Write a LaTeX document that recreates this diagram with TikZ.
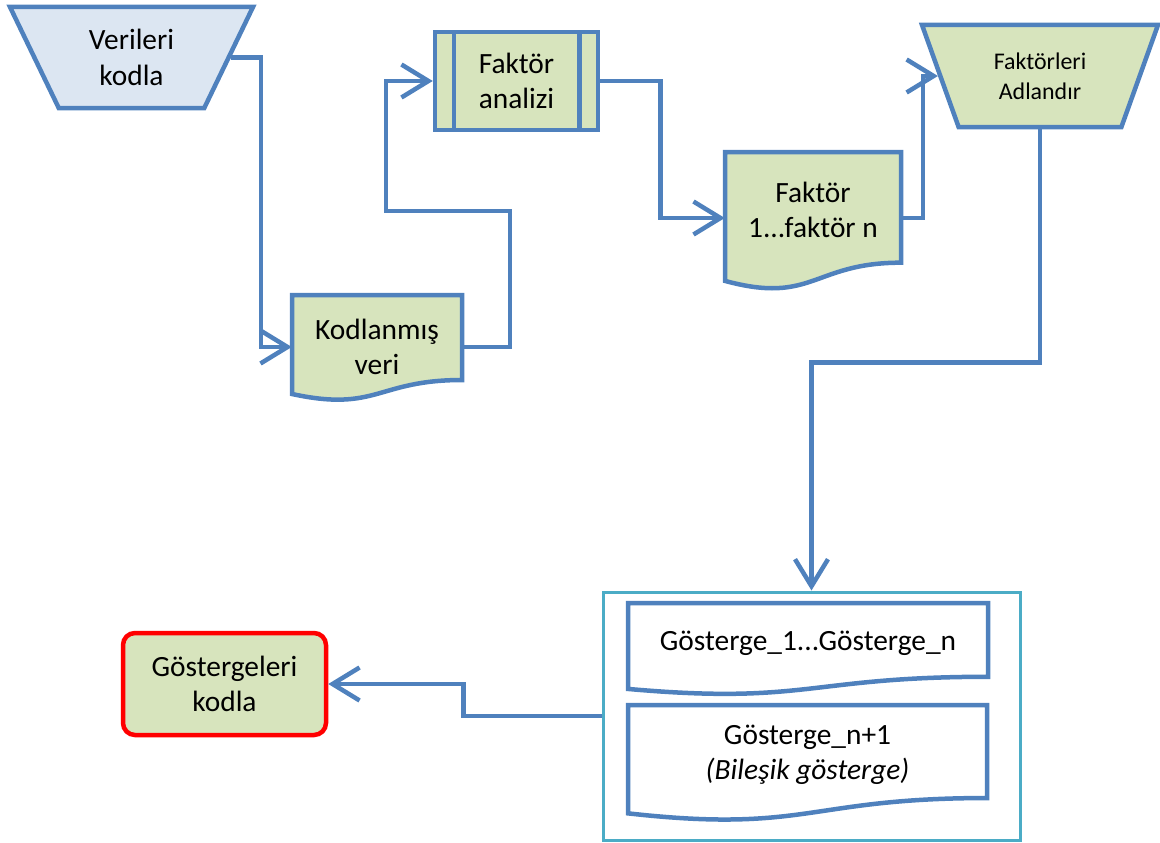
\documentclass[tikz,border=0pt]{standalone}
\usepackage{fontspec}
\setmainfont{Carlito}
\usetikzlibrary{shapes.geometric,arrows.meta,calc}
\definecolor{lnblue}{HTML}{4F81BD}
\definecolor{fgreen}{HTML}{D7E4BD}
\definecolor{fblue}{HTML}{DCE6F2}
\definecolor{grpc}{HTML}{4BACC6}
\newcommand\docshape[5]{%
  \filldraw[shp, fill=#5] (#1,#2) -- ({#1+#3},#2) -- ({#1+#3},{#2+0.802*#4})
    .. controls ({#1+0.5*#3},{#2+0.802*#4}) and ({#1+0.5*#3},{#2+1.1075*#4}) ..
    (#1,{#2+0.934*#4}) -- cycle;}
\begin{document}
\begin{tikzpicture}[x=1bp,y=-1bp,
  txt/.style={font=\fontsize{29.5}{35.5}\selectfont, align=center, text=black},
  smalltxt/.style={font=\fontsize{24}{30}\selectfont, align=center, text=black},
  shp/.style={draw=lnblue, line width=4.5bp},
  trap/.style={trapezium, trapezium stretches=true, shape border rotate=180, inner sep=0},
  conn/.style={draw=lnblue, line width=4.5bp, -{Straight Barb[length=27bp,width=33bp]}},
]
\useasboundingbox (0,0) rectangle (1160,843);

% shapes
\node[shp, fill=fblue, txt, trap, trapezium left angle=63, trapezium right angle=63,
  minimum width=243bp, minimum height=101bp] (vk) at (131.5,57.5) {Verileri\\kodla};

\docshape{292}{295}{170}{106}{fgreen}
\node[txt, minimum width=170bp, inner sep=0] (kv) at (377,347) {Kodlanmış\\veri};

\node[txt, shp, fill=fgreen, minimum width=163bp, minimum height=98bp, inner sep=0] (fan) at (516.5,81) {Faktör\\analizi};
\draw[shp] ([xshift=21bp,yshift=-2bp]fan.north west) -- ([xshift=21bp,yshift=2bp]fan.south west);
\draw[shp] ([xshift=-21bp,yshift=-2bp]fan.north east) -- ([xshift=-21bp,yshift=2bp]fan.south east);

\docshape{725}{152}{176}{138}{fgreen}
\node[txt, minimum width=176bp, inner sep=0] (f1) at (813,210) {Faktör\\1...faktör n};

\node[shp, fill=fgreen, smalltxt, trap, trapezium left angle=66, trapezium right angle=66,
  minimum width=236bp, minimum height=102bp] (fa) at (1040,76) {Faktörleri\\Adlandır};

\node[draw=grpc, line width=3bp, minimum width=417bp, minimum height=248bp, inner sep=0] (grp) at (811.5,716) {};

\docshape{628}{603}{360}{92}{white}
\node[txt, minimum width=360bp, inner sep=0] (g1) at (808,643) {Gösterge\_1...Gösterge\_n};

\docshape{628}{705}{359}{116}{white}
\node[txt, minimum width=359bp, inner sep=0] (g2) at (807.5,755) {Gösterge\_n+1\\\textit{(Bileşik gösterge)}};

\node[txt, draw=red, line width=4.5bp, fill=fgreen, rounded corners=12bp,
  minimum width=203bp, minimum height=102bp, inner sep=0] (gk) at (224.5,684) {Göstergeleri\\kodla};

% connectors
\draw[conn] (vk.east) -- ++(30,0) |- (kv.west);
\draw[conn] (kv.east) -- ++(48,0) -- ++(0,-136) -- ++(-124,0) |- (fan.west);
\draw[conn] (fan.east) -- ++(60,0) |- ([yshift=-8bp]f1.west);
\draw[conn] ([yshift=-8bp]f1.east) -- ++(22,0) |- (fa.west);
\draw[conn] (fa.south) -- ++(0,233) -| (grp.north);
\draw[conn] (grp.west) -- ++(-138,0) |- (gk.east);
\end{tikzpicture}
\end{document}
